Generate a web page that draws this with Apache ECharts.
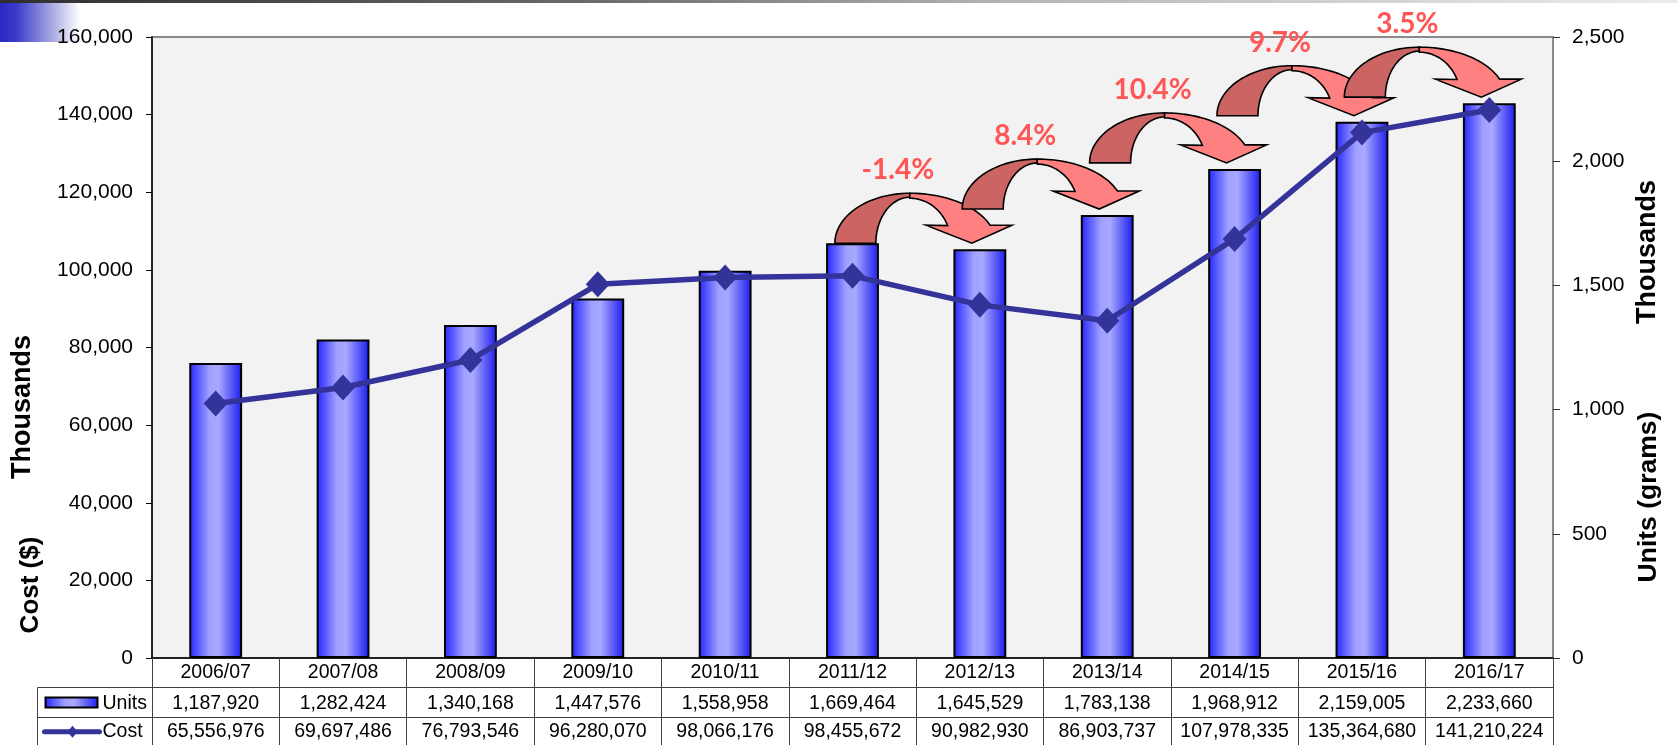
<!DOCTYPE html>
<html><head><meta charset="utf-8">
<script src="https://cdn.jsdelivr.net/npm/echarts@6/dist/echarts.min.js"></script>
<style>html,body{margin:0;padding:0;background:#fff}#c{width:1678px;height:745px}</style>
</head><body><div id="c"></div>
<script>
// ---- data ----
const categories = ['2006/07','2007/08','2008/09','2009/10','2010/11','2011/12','2012/13','2013/14','2014/15','2015/16','2016/17'];
const unitsRaw = [1187920,1282424,1340168,1447576,1558958,1669464,1645529,1783138,1968912,2159005,2233660];
const costRaw = [65556976,69697486,76793546,96280070,98066176,98455672,90982930,86903737,107978335,135364680,141210224];
const costAxisTicks = [0,20000,40000,60000,80000,100000,120000,140000,160000];
const unitsAxisTicks = [0,500,1000,1500,2000,2500];
const growthLabels = ['-1.4%','8.4%','10.4%','9.7%','3.5%'];
const growthFromIndex = 5;

// ---- helpers ----
const fmt = v => Math.round(v).toString().replace(/\B(?=(\d{3})+(?!\d))/g, ',');
const FONT = '"Liberation Sans", Arial, sans-serif';
const barGradient = {type:'linear', x:0, y:0, x2:1, y2:0, colorStops:[
  {offset:0, color:'#2424ff'},{offset:0.38, color:'#a0a0ff'},{offset:0.55, color:'#a9a9ff'},{offset:1, color:'#1a1af0'}]};
const LINE_COLOR = '#333399';

function ellipsePts(cx, cy, rx, ry, a0, a1, n) {
  const pts = [];
  for (let k = 0; k <= n; k++) {
    const a = a0 + (a1 - a0) * k / n;
    pts.push([cx + rx * Math.cos(a), cy - ry * Math.sin(a)]);
  }
  return pts;
}

function renderArrow(params, api) {
  const p = api.coord([api.value(0), api.value(1)]);
  const tx = p[0] - 8, ty = p[1] - 6;
  const ax = tx - 62;
  const dark = ellipsePts(ax, ty, 75, 50, Math.PI, Math.PI/2, 30)
    .concat(ellipsePts(ax, ty, 34, 46, Math.PI/2, Math.PI, 30));
  const t1 = Math.asin(18/50), t2 = Math.asin(18/46);
  const light = ellipsePts(ax, ty, 86, 50, Math.PI/2, t1, 30)
    .concat([[tx + 40, ty - 18], [tx, ty], [tx - 46, ty - 18]])
    .concat(ellipsePts(ax, ty, 41, 45, t2, Math.PI/2, 30));
  const lbl = growthLabels[api.value(2)];
  return {type:'group', children:[
    {type:'polygon', shape:{points:dark}, style:{fill:'#cc6464', stroke:'#000', lineWidth:1.6}},
    {type:'polygon', shape:{points:light}, style:{fill:'#ff8080', stroke:'#000', lineWidth:1.6}},
    {type:'text', style:{x:ax - 12, y:ty - 73, text:lbl, align:'center', verticalAlign:'middle',
      fontSize:28, fontWeight:'bold', fontFamily:'Lato, "Open Sans", sans-serif', fill:'#ff5555'}}
  ]};
}

function renderTable(params, api) {
  const i = api.value(0);
  const p = api.coord([i, 0]);
  const w = api.size([1, 0])[0];
  const xL = p[0] - w/2, xR = p[0] + w/2, y0 = p[1];
  const r1 = Math.round(y0 + 29) + 0.5, r2 = Math.round(y0 + 59) + 0.5, r3 = y0 + 90;
  const ls = {stroke:'#404040', lineWidth:1};
  const tf = {align:'center', verticalAlign:'middle', fontSize:19.5, fontFamily:FONT, fill:'#000'};
  const children = [
    {type:'line', shape:{x1:xL, y1:r1, x2:xR, y2:r1}, style:ls},
    {type:'line', shape:{x1:xL, y1:r2, x2:xR, y2:r2}, style:ls},
    {type:'text', style:Object.assign({x:p[0], y:(r1+r2)/2 + 1, text:fmt(api.value(2))}, tf)},
    {type:'text', style:Object.assign({x:p[0], y:(r2+r3)/2 - 1, text:fmt(api.value(3))}, tf)}
  ];
  if (i === 0) {
    const tl = Math.round(xL - 115) + 0.5;
    children.push(
      {type:'line', shape:{x1:tl, y1:r1, x2:xL, y2:r1}, style:ls},
      {type:'line', shape:{x1:tl, y1:r2, x2:xL, y2:r2}, style:ls},
      {type:'line', shape:{x1:tl, y1:r1, x2:tl, y2:r3}, style:ls},
      {type:'rect', shape:{x:tl + 8, y:(r1+r2)/2 - 5, width:52, height:10}, style:{fill:barGradient, stroke:'#000', lineWidth:2}},
      {type:'text', style:Object.assign({x:tl + 65, y:(r1+r2)/2 + 1, text:'Units'}, tf, {align:'left'})},
      {type:'line', shape:{x1:tl + 7, y1:(r2+r3)/2 - 1, x2:tl + 62, y2:(r2+r3)/2 - 1}, style:{stroke:LINE_COLOR, lineWidth:5, lineCap:'round'}},
      {type:'polygon', shape:{points:[[tl+35,(r2+r3)/2-7],[tl+40,(r2+r3)/2-1],[tl+35,(r2+r3)/2+5],[tl+30,(r2+r3)/2-1]]}, style:{fill:LINE_COLOR}},
      {type:'text', style:Object.assign({x:tl + 65, y:(r2+r3)/2 - 1, text:'Cost'}, tf, {align:'left'})}
    );
  }
  return {type:'group', children};
}

const chart = echarts.init(document.getElementById('c'), null, {renderer:'canvas'});
chart.setOption({
  animation:false,
  backgroundColor:'#fff',
  grid:{left:152, right:125, top:37, bottom:87, show:true, backgroundColor:'#f2f2f2', borderColor:'#8a8a8a', borderWidth:2},
  xAxis:{type:'category', data:categories, boundaryGap:true,
    axisLine:{show:true, lineStyle:{color:'#000', width:1.5}},
    axisTick:{show:true, interval:0, length:88, lineStyle:{color:'#404040', width:1}},
    axisLabel:{interval:0, margin:5, fontSize:19.5, fontFamily:FONT, color:'#000'}},
  yAxis:[
    {type:'value', position:'left', min:costAxisTicks[0], max:costAxisTicks[costAxisTicks.length-1], interval:costAxisTicks[1]-costAxisTicks[0],
     axisLine:{show:true, lineStyle:{color:'#000', width:1.5}},
     axisTick:{show:true, length:6, lineStyle:{color:'#000'}},
     axisLabel:{margin:19, fontSize:21, fontFamily:FONT, color:'#000', formatter:v => fmt(v)},
     splitLine:{show:false}},
    {type:'value', position:'right', min:unitsAxisTicks[0], max:unitsAxisTicks[unitsAxisTicks.length-1], interval:unitsAxisTicks[1]-unitsAxisTicks[0],
     axisLine:{show:true, lineStyle:{color:'#8a8a8a', width:1.5}},
     axisTick:{show:true, length:7, lineStyle:{color:'#333'}},
     axisLabel:{margin:19, fontSize:21, fontFamily:FONT, color:'#000', formatter:v => fmt(v)},
     splitLine:{show:false}}
  ],
  series:[
    {name:'Units', type:'bar', yAxisIndex:1, barWidth:'41.5%', z:2,
     data:unitsRaw.map(v => v/1000),
     itemStyle:{color:barGradient, borderColor:'#000', borderWidth:2}},
    {name:'Cost', type:'line', yAxisIndex:0, z:5,
     data:costRaw.map(v => v/1000),
     symbol:'diamond', symbolSize:[24,26],
     lineStyle:{color:LINE_COLOR, width:5.5}, itemStyle:{color:LINE_COLOR}},
    {name:'growth', type:'custom', yAxisIndex:1, z:10, clip:false, silent:true,
     renderItem:renderArrow, encode:{x:0, y:1},
     data:growthLabels.map((l,k) => [growthFromIndex + k + 1, unitsRaw[growthFromIndex + k + 1]/1000, k])},
    {name:'table', type:'custom', yAxisIndex:1, z:3, clip:false, silent:true,
     renderItem:renderTable, encode:{x:0, y:1},
     data:categories.map((c,i) => [i, 0, unitsRaw[i], costRaw[i]])}
  ],
  graphic:[
    {type:'rect', left:0, top:0, shape:{width:1678, height:3}, style:{fill:{type:'linear',x:0,y:0,x2:1,y2:0,colorStops:[
      {offset:0,color:'#2e2e2e'},{offset:0.35,color:'#6a6a6a'},{offset:0.6,color:'#b5b5b5'},{offset:1,color:'#ececec'}]}}},
    {type:'rect', left:0, top:3, shape:{width:80, height:39}, style:{fill:{type:'linear',x:0,y:0,x2:1,y2:0,colorStops:[
      {offset:0,color:'#2a2ac4'},{offset:0.2,color:'#3a3aca'},{offset:0.6,color:'#9d9ddf'},{offset:1,color:'#ffffff'}]}}},
    {type:'text', x:23, y:407, rotation:Math.PI/2, style:{text:'Thousands', x:0, y:0, align:'center', verticalAlign:'middle', fontSize:27, fontWeight:'bold', fontFamily:FONT, fill:'#000'}},
    {type:'text', x:31, y:585, rotation:Math.PI/2, style:{text:'Cost ($)', x:0, y:0, align:'center', verticalAlign:'middle', fontSize:26, fontWeight:'bold', fontFamily:FONT, fill:'#000'}},
    {type:'text', x:1648, y:252, rotation:Math.PI/2, style:{text:'Thousands', x:0, y:0, align:'center', verticalAlign:'middle', fontSize:27, fontWeight:'bold', fontFamily:FONT, fill:'#000'}},
    {type:'text', x:1649, y:497, rotation:Math.PI/2, style:{text:'Units (grams)', x:0, y:0, align:'center', verticalAlign:'middle', fontSize:26.5, fontWeight:'bold', fontFamily:FONT, fill:'#000'}}
  ]
});
</script>
</body></html>
